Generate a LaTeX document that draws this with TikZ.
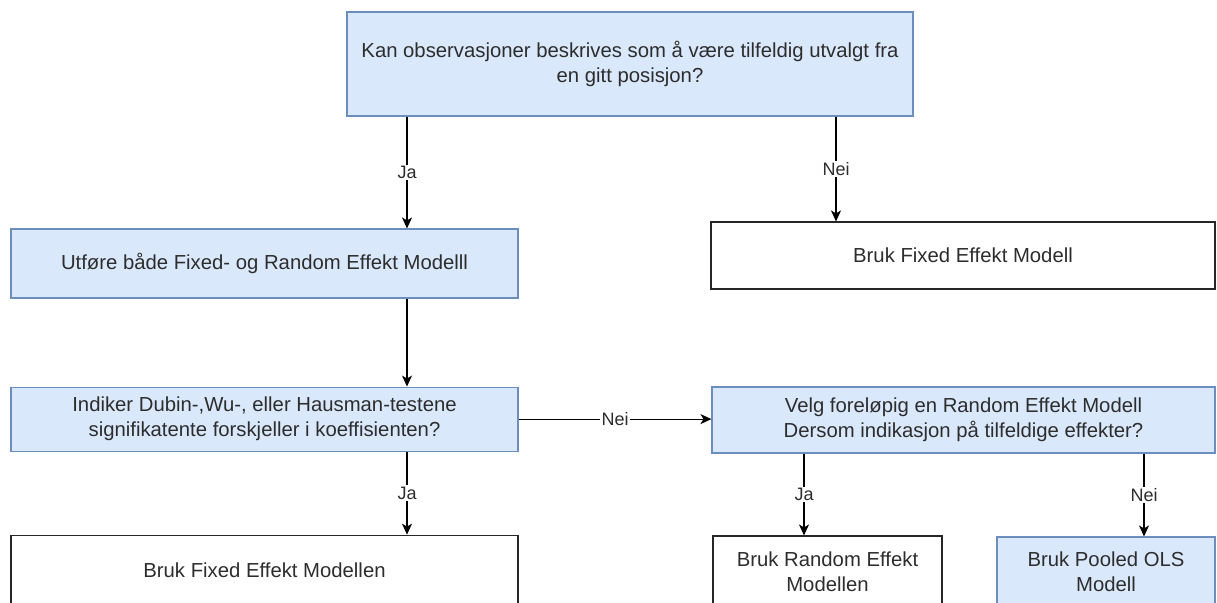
\documentclass[tikz,border=0pt]{standalone}
\usepackage{fontspec}
\setmainfont{Liberation Sans}
\usetikzlibrary{arrows.meta,positioning,calc}
\definecolor{qBlue}{HTML}{DAE8FC}
\definecolor{qEdge}{HTML}{6C8EBF}
\definecolor{txtG}{RGB}{45,45,45}

\begin{document}
\begin{tikzpicture}[x=1pt, y=-1pt,
  qbox/.style={draw=qEdge, fill=qBlue, line width=1.1pt, align=center,
    inner sep=4pt, text=txtG, font=\fontsize{20.3}{25}\selectfont},
  abox/.style={draw=black!85, fill=white, line width=1.1pt, align=center,
    inner sep=4pt, text=txtG, font=\fontsize{20.3}{25}\selectfont},
  lab/.style={fill=white, inner sep=1.5pt, text=txtG, font=\fontsize{18}{20}\selectfont},
  arr/.style={-{Stealth[length=11pt, width=10pt, inset=3pt]}, line width=1.2pt},
]
\useasboundingbox (0,0) rectangle (1217,602);

% column positions of the vertical connectors
\coordinate (colA) at (407,0);
\coordinate (colB) at (836,0);
\coordinate (colC) at (804,0);
\coordinate (colD) at (1144,0);

% first question
\node[qbox, minimum width=566pt, minimum height=104pt] (Q1) at (630,64)
  {Kan observasjoner beskrives som å være tilfeldig utvalgt fra\\en gitt posisjon?};

% left branch
\node[qbox, minimum width=507pt, minimum height=69pt] (Utf) at (264.5,263.5)
  {Utføre både Fixed- og Random Effekt Modelll};
\node[qbox, minimum width=507pt, minimum height=64pt, below=88pt of Utf] (Q2)
  {Indiker Dubin-,Wu-, eller Hausman-testene\\signifikatente forskjeller i koeffisienten?};
\node[abox, minimum width=507pt, minimum height=70pt, below=83pt of Q2] (FixL)
  {Bruk Fixed Effekt Modellen};

% right branch
\node[abox, minimum width=504pt, minimum height=67pt] (FixR) at (963,255.5)
  {Bruk Fixed Effekt Modell};
\node[qbox, minimum width=503pt, minimum height=66pt] (Q3) at (963.5,420)
  {Velg foreløpig en Random Effekt Modell\\Dersom indikasjon på tilfeldige effekter?};
\node[abox, minimum width=229pt, minimum height=72pt] (Rand) at (827.5,572)
  {Bruk Random Effekt\\Modellen};
\node[qbox, minimum width=218pt, minimum height=70pt] (Pool) at (1106,572)
  {Bruk Pooled OLS\\Modell};

% connectors
\draw[arr] (Q1.south -| colA) -- node[lab]{Ja} (Utf.north -| colA);
\draw[arr] (Q1.south -| colB) -- node[lab]{Nei} (FixR.north -| colB);
\draw[arr] (Utf.south -| colA) -- (Q2.north -| colA);
\draw[arr] (Q2.east) -- node[lab]{Nei} (Q2.east -| Q3.west);
\draw[arr] (Q2.south -| colA) -- node[lab]{Ja} (FixL.north -| colA);
\draw[arr] (Q3.south -| colC) -- node[lab]{Ja} (Rand.north -| colC);
\draw[arr] (Q3.south -| colD) -- node[lab]{Nei} (Pool.north -| colD);

\end{tikzpicture}
\end{document}
